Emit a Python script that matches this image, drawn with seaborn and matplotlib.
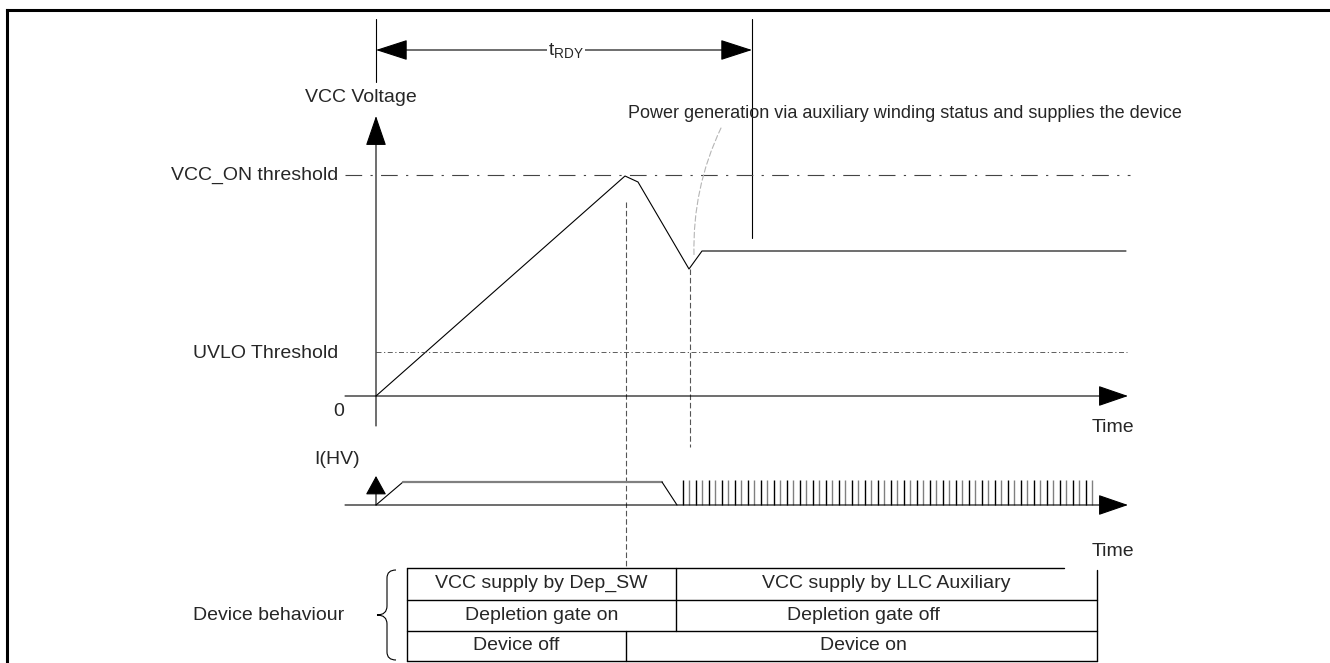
import numpy as np
import matplotlib
matplotlib.use("Agg")
import matplotlib.pyplot as plt
from matplotlib.path import Path
from matplotlib.patches import PathPatch
import seaborn as sns

# --- diagram data (pixel space of the original sheet, y grows downward) ---
vcc_x = [376, 625, 638, 689, 702, 1126]
vcc_y = [396, 176, 182, 269, 251, 251]

vcc_on_y = 175
uvlo_y = 352
zero_y = 396
ihv_base_y = 505

ihv_x = [376, 403, 662, 677]
ihv_y = [505, 482, 482, 505]

pulse_first, pulse_last, pulse_count = 683, 1092, 64
pulse_top = 480

trdy_left, trdy_right, trdy_y = 376, 752, 50

row_edges = [568, 599.5, 631, 661]
table_left, table_right = 407, 1097
row_splits = [676, 676, 626]
cells = [("VCC supply by Dep_SW", "VCC supply by LLC Auxiliary"),
         ("Depletion gate on", "Depletion gate off"),
         ("Device off", "Device on")]

axis_labels = ["VCC_ON threshold", "UVLO Threshold", "0"]
note = "Power generation via auxiliary winding status and supplies the device"

sns.set_theme(style="white")
plt.rcParams['font.family'] = ['Liberation Sans', 'DejaVu Sans']
FS = 14

fig = plt.figure(figsize=(13.3, 6.63), dpi=100)
ax = fig.add_axes([0, 0, 1, 1])

K = "black"
LW = 0.8

def arrow(tail, tip, style="-|>", hl=1.6, hw=0.55):
    ax.annotate("", xy=tip, xytext=tail,
                arrowprops=dict(arrowstyle=f"{style},head_length={hl},head_width={hw}",
                                color=K, lw=LW, shrinkA=0, shrinkB=0))

# VCC curve first (seaborn), then the rest of the sketch on the same axes
sns.lineplot(x=vcc_x, y=vcc_y, sort=False, estimator=None, color=K, lw=LW, ax=ax)
ax.set_xlim(0, 1330)
ax.set_ylim(663, 0)
ax.axis("off")

# frame
ax.plot([7, 7], [663, 10], color=K, lw=2.2, solid_capstyle="projecting")
ax.plot([7, 1330], [10, 10], color=K, lw=2.2, solid_capstyle="projecting")

# t_RDY marker
ax.plot([trdy_left, trdy_left], [19, 82], color=K, lw=LW)
ax.plot([trdy_right, trdy_right], [19, 238], color=K, lw=LW)
arrow((trdy_left, trdy_y), (trdy_right, trdy_y), style="<|-|>", hl=1.7, hw=0.55)
ax.text((trdy_left + trdy_right) / 2 + 2, trdy_y + 1, r"$\mathregular{t_{RDY}}$", fontsize=FS,
        ha="center", va="center", bbox=dict(fc="white", ec="none", pad=1))

# VCC axes
arrow((376, 426), (376, 116))
arrow((345, zero_y), (1128, zero_y))
ax.plot([345, 1130], [vcc_on_y, vcc_on_y], color="#444444", lw=LW,
        linestyle=(0, (15, 7.5, 2, 7.5)))
ax.plot([376, 1127], [uvlo_y, uvlo_y], color="#444444", lw=0.6,
        linestyle=(0, (6, 3, 1.5, 3)))

ax.text(338, vcc_on_y, axis_labels[0], fontsize=FS, ha="right", va="center")
ax.text(338, uvlo_y + 2, axis_labels[1], fontsize=FS, ha="right", va="center")
ax.text(339, 411, axis_labels[2], fontsize=FS, ha="center", va="center")
ax.text(417, 98, "VCC Voltage", fontsize=FS, ha="right", va="center")
ax.text(1134, 427, "Time", fontsize=FS, ha="right", va="center")

# annotation text and leader
ax.text(628, 113, note, fontsize=13, ha="left", va="center")
ax.annotate("", xy=(694, 255), xytext=(721, 128),
            arrowprops=dict(arrowstyle="-", color="#b5b5b5", lw=0.8, linestyle=(0, (5, 2.5)),
                            connectionstyle="arc3,rad=0.12", shrinkA=0, shrinkB=0))

# guide lines
ax.plot([626, 626], [202, row_edges[0]], color="#555555", lw=LW, linestyle=(0, (5, 2.5)))
ax.plot([690, 690], [269, 447], color="#555555", lw=LW, linestyle=(0, (5, 2.5)))

# I(HV) trace
arrow((376, ihv_base_y), (376, 476), hl=1.0, hw=0.55)
arrow((345, ihv_base_y), (1128, ihv_base_y))
ax.plot(ihv_x[:2], ihv_y[:2], color=K, lw=LW)
ax.plot(ihv_x[1:3], ihv_y[1:3], color="#808080", lw=1.6)
ax.plot(ihv_x[2:], ihv_y[2:], color=K, lw=LW)
pulse_x = np.linspace(pulse_first, pulse_last, pulse_count)
ax.vlines(pulse_x, pulse_top, ihv_base_y,
          colors=[K if i % 2 == 0 else "#808080" for i in range(pulse_count)], lw=1.0)
ax.text(360, 459, "I(HV)", fontsize=FS, ha="right", va="center")
ax.text(1134, 552, "Time", fontsize=FS, ha="right", va="center")

# behaviour table
TW = 1.0
ax.plot([table_left, 1064], [row_edges[0]] * 2, color=K, lw=TW)
for y in row_edges[1:]:
    ax.plot([table_left, table_right], [y, y], color=K, lw=TW)
ax.plot([table_left, table_left], [row_edges[0], row_edges[-1]], color=K, lw=TW)
ax.plot([table_right, table_right], [570, row_edges[-1]], color=K, lw=TW)
for i, (xs, (left_txt, right_txt)) in enumerate(zip(row_splits, cells)):
    y0, y1 = row_edges[i], row_edges[i + 1]
    ax.plot([xs, xs], [y0, y1], color=K, lw=TW)
    yc = (y0 + y1) / 2
    ax.text((table_left + xs) / 2, yc, left_txt, fontsize=FS, ha="center", va="center")
    rx = (xs + table_right) / 2 if i == 0 else 863
    ax.text(rx, yc, right_txt, fontsize=FS, ha="center", va="center")

# brace
brace = Path([(396, 570), (387, 570), (387, 578), (387, 606), (387, 615), (377, 615),
              (387, 615), (387, 624), (387, 652), (387, 660), (396, 660)],
             [Path.MOVETO, Path.CURVE3, Path.CURVE3, Path.LINETO, Path.CURVE3, Path.CURVE3,
              Path.CURVE3, Path.CURVE3, Path.LINETO, Path.CURVE3, Path.CURVE3])
ax.add_patch(PathPatch(brace, fc="none", ec=K, lw=LW))
ax.text(344, 615, "Device behaviour", fontsize=FS, ha="right", va="center")

fig.savefig("out.png", dpi=100, facecolor="white")
